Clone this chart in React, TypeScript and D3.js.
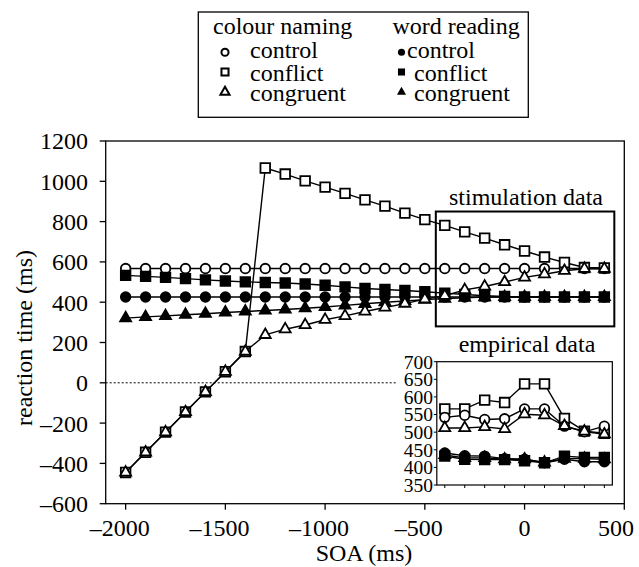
import React from 'react';
import * as d3 from 'd3';

// SOA values (ms) for the simulated curves
const soa = [
  -2000, -1900, -1800, -1700, -1600, -1500, -1400, -1300, -1200, -1100, -1000, -900, -800, -700, -600, -500,
  -400, -300, -200, -100, 0, 100, 200, 300, 400,
];

// simulation data: colour naming
const colourControl = [
  567, 567, 567, 567, 567, 567, 567, 567, 567, 567, 567, 567, 567, 567, 567, 567, 567, 567, 567, 567, 567, 567,
  567, 567, 567,
];
const colourConflict = [
  -445, -345, -245, -145, -45, 55, 155, 1066, 1036, 1002, 971, 940, 908, 877, 842, 810, 781, 749, 718, 685, 654,
  624, 597, 572, 570,
];
const colourCongruent = [
  -445, -345, -245, -145, -45, 55, 155, 238, 266, 287, 313, 332, 354, 374, 393, 415, 432, 461, 478, 500, 523, 539,
  556, 566, 566,
];

// simulation data: word reading
const wordControl = [
  426, 426, 426, 426, 426, 426, 426, 426, 426, 426, 426, 426, 426, 426, 426, 426, 426, 426, 426, 426, 426, 426,
  426, 426, 426,
];
const wordConflict = [
  533, 528, 523, 517, 511, 505, 501, 498, 495, 490, 484, 476, 468, 463, 458, 452, 445, 438, 432, 428, 426, 426,
  426, 426, 426,
];
const wordCongruent = [
  321, 327, 332, 338, 343, 349, 354, 359, 364, 370, 376, 384, 392, 400, 406, 413, 418, 422, 425, 426, 426, 426,
  426, 426, 426,
];

// empirical data (inset)
const empSoa = [-400, -300, -200, -100, 0, 100, 200, 300, 400];
const empColourControl = [542, 548, 536, 538, 566, 566, 517, 501, 517];
const empColourConflict = [566, 566, 591, 584, 637, 637, 539, 503, 497];
const empColourCongruent = [512, 512, 515, 509, 551, 548, 518, 502, 494];
const empWordControl = [441, 433, 432, 425, 423, 413, 423, 416, 416];
const empWordConflict = [432, 423, 422, 422, 419, 413, 432, 428, 428];
const empWordCongruent = [435, 427, 427, 423, 423, 414, 425, 425, 423];

const xTicks = [-2000, -1500, -1000, -500, 0, 500];
const yTicks = [-600, -400, -200, 0, 200, 400, 600, 800, 1000, 1200];
const insetYTicks = [350, 400, 450, 500, 550, 600, 650, 700];

type Shape = 'circle' | 'square' | 'triangle';

const FONT = "'Liberation Serif', 'Times New Roman', serif";
const fmt = (v: number) => (v < 0 ? `\u2013${Math.abs(v)}` : `${v}`);

const symPath = (shape: Shape, size: number) => {
  const type = shape === 'circle' ? d3.symbolCircle : shape === 'square' ? d3.symbolSquare : d3.symbolTriangle;
  return d3.symbol().type(type).size(size)() as string;
};

const bigSize: Record<Shape, number> = { circle: 72, square: 92, triangle: 52 };
const smallSize: Record<Shape, number> = { circle: 40, square: 50, triangle: 36 };

interface SeriesDef {
  xs: number[];
  ys: number[];
  shape: Shape;
  filled: boolean;
}

export default function App() {
  const width = 639;
  const height = 567;

  const x = d3.scaleLinear().domain([-2100, 500]).range([105.7, 624.3]);
  const y = d3.scaleLinear().domain([-600, 1200]).range([503.7, 141]);
  const yIn = d3.scaleLinear().domain([350, 700]).range([485, 361.7]);

  const main: SeriesDef[] = [
    { xs: soa, ys: colourControl, shape: 'circle', filled: false },
    { xs: soa, ys: wordControl, shape: 'circle', filled: true },
    { xs: soa, ys: wordCongruent, shape: 'triangle', filled: true },
    { xs: soa, ys: wordConflict, shape: 'square', filled: true },
    { xs: soa, ys: colourConflict, shape: 'square', filled: false },
    { xs: soa, ys: colourCongruent, shape: 'triangle', filled: false },
  ];
  const inset: SeriesDef[] = [
    { xs: empSoa, ys: empWordControl, shape: 'circle', filled: true },
    { xs: empSoa, ys: empWordConflict, shape: 'square', filled: true },
    { xs: empSoa, ys: empWordCongruent, shape: 'triangle', filled: true },
    { xs: empSoa, ys: empColourConflict, shape: 'square', filled: false },
    { xs: empSoa, ys: empColourControl, shape: 'circle', filled: false },
    { xs: empSoa, ys: empColourCongruent, shape: 'triangle', filled: false },
  ];

  const renderSeries = (s: SeriesDef, yScale: d3.ScaleLinear<number, number>, key: string) => {
    const pts = s.xs.map((v, i) => [x(v), yScale(s.ys[i])] as [number, number]);
    const line = d3.line()(pts) as string;
    const d = symPath(s.shape, bigSize[s.shape]);
    return (
      <g key={key}>
        <path d={line} fill="none" stroke="#000" strokeWidth={1.4} />
        {pts.map(([px, py], i) => (
          <path
            key={i}
            d={d}
            transform={`translate(${px},${py})`}
            fill={s.filled ? '#000' : '#fff'}
            stroke="#000"
            strokeWidth={1.8}
          />
        ))}
      </g>
    );
  };

  // legend rows
  const legendRows: { label: string; shape: Shape; y: number; my: number }[] = [
    { label: 'control', shape: 'circle', y: 57.5, my: 52.3 },
    { label: 'conflict', shape: 'square', y: 80.5, my: 72 },
    { label: 'congruent', shape: 'triangle', y: 101, my: 92 },
  ];

  const [x0, x1] = x.range();
  const [yb, yt] = y.range();
  const insL = x(-440);
  const insR = x(440);

  // x tick label placement: digits centred under the tick, last one kept inside the picture
  const xLabel = (t: number) => {
    if (t === 500) return { x: 634, anchor: 'end' };
    return { x: x(t) - (t < 0 ? 6 : 0), anchor: 'middle' };
  };

  return (
    <svg
      width={width}
      height={height}
      style={{ position: 'absolute', left: 0, top: 0, background: '#fff' }}
      fontFamily={FONT}
    >
      <rect width={width} height={height} fill="#fff" />

      {/* legend */}
      <rect x={198.3} y={12} width={330} height={105.3} fill="#fff" stroke="#000" strokeWidth={1.3} />
      <text x={213} y={33.5} fontSize={24}>
        colour naming
      </text>
      <text x={392.5} y={33.5} fontSize={24}>
        word reading
      </text>
      {legendRows.map((r) => (
        <g key={r.label}>
          <path
            d={symPath(r.shape, smallSize[r.shape])}
            transform={`translate(225,${r.my})`}
            fill="#fff"
            stroke="#000"
            strokeWidth={2}
          />
          <text x={250} y={r.y} fontSize={24}>
            {r.label}
          </text>
          <path d={symPath(r.shape, smallSize[r.shape])} transform={`translate(401.5,${r.my})`} fill="#000" />
          <text x={r.shape === 'circle' ? 407 : 414} y={r.y} fontSize={24}>
            {r.label}
          </text>
        </g>
      ))}

      {/* main frame and axes */}
      <rect x={x0} y={yt} width={x1 - x0} height={yb - yt} fill="none" stroke="#000" strokeWidth={1.3} />
      {yTicks.map((t) => (
        <g key={`y${t}`}>
          <line x1={x0 - 6} x2={x0} y1={y(t)} y2={y(t)} stroke="#000" strokeWidth={1.3} />
          <text x={88} y={y(t)} dy="0.35em" textAnchor="end" fontSize={24}>
            {fmt(t)}
          </text>
        </g>
      ))}
      {xTicks.map((t) => {
        const l = xLabel(t);
        return (
          <g key={`x${t}`}>
            <line x1={x(t)} x2={x(t)} y1={yb} y2={yb + 6} stroke="#000" strokeWidth={1.3} />
            <text x={l.x} y={536} textAnchor={l.anchor} fontSize={24}>
              {fmt(t)}
            </text>
          </g>
        );
      })}
      <text x={364} y={561} textAnchor="middle" fontSize={24}>
        SOA (ms)
      </text>
      <text transform={`translate(32,338) rotate(-90)`} textAnchor="middle" fontSize={24}>
        reaction time (ms)
      </text>

      {/* zero reference line */}
      <line x1={x0} x2={398} y1={y(0)} y2={y(0)} stroke="#000" strokeWidth={1} strokeDasharray="2,2" />

      {/* simulated curves */}
      {main.map((s, i) => renderSeries(s, y, `m${i}`))}

      {/* stimulation data box */}
      <rect
        x={x(-445)}
        y={y(850)}
        width={x(450) - x(-445)}
        height={y(280) - y(850)}
        fill="none"
        stroke="#000"
        strokeWidth={2}
      />
      <text x={526} y={205} textAnchor="middle" fontSize={24}>
        stimulation data
      </text>

      {/* empirical inset */}
      <rect x={insL - 40} y={yIn(700) - 8} width={insR - insL + 44} height={yIn(350) - yIn(700) + 16} fill="#fff" />
      <text x={527} y={352} textAnchor="middle" fontSize={24}>
        empirical data
      </text>
      <rect
        x={insL}
        y={yIn(700)}
        width={insR - insL}
        height={yIn(350) - yIn(700)}
        fill="#fff"
        stroke="#000"
        strokeWidth={1.2}
      />
      {insetYTicks.map((t) => (
        <g key={`iy${t}`}>
          <line x1={insL - 3} x2={insL} y1={yIn(t)} y2={yIn(t)} stroke="#000" strokeWidth={1} />
          <text x={433} y={yIn(t)} dy="0.35em" textAnchor="end" fontSize={19.5}>
            {t}
          </text>
        </g>
      ))}
      {empSoa.map((t) => (
        <line key={`ix${t}`} x1={x(t)} x2={x(t)} y1={yIn(350)} y2={yIn(350) + 3} stroke="#000" strokeWidth={1} />
      ))}
      {inset.map((s, i) => renderSeries(s, yIn, `e${i}`))}
    </svg>
  );
}
